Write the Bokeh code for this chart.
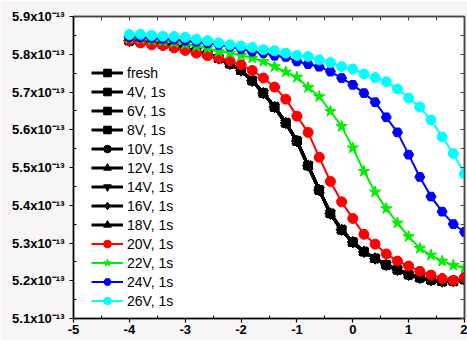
import math
from bokeh.plotting import figure
from bokeh.models import (FixedTicker, PrintfTickFormatter, LinearAxis, Legend,
                          LegendItem, Range1d)
from bokeh.embed import file_html
from bokeh.resources import INLINE

# ---------------- data (capacitance in units of 1e-13 F) ----------------
gate_v = [-4.0, -3.8, -3.6, -3.4, -3.2, -3.0, -2.8, -2.6, -2.4, -2.2, -2.0,
          -1.8, -1.6, -1.4, -1.2, -1.0, -0.8, -0.6, -0.4, -0.2, 0.0,
          0.2, 0.4, 0.6, 0.8, 1.0, 1.2, 1.4, 1.6, 1.8, 2.0]

# fresh ... 18V curves overlap almost exactly
black_curve = [5.836, 5.833, 5.830, 5.826, 5.821, 5.815, 5.808, 5.800, 5.789, 5.775, 5.757,
               5.730, 5.697, 5.660, 5.618, 5.570, 5.505, 5.440, 5.378, 5.335, 5.302,
               5.277, 5.259, 5.242, 5.229, 5.216, 5.208, 5.202, 5.198, 5.199, 5.203]
v20 = [5.837, 5.830, 5.825, 5.823, 5.817, 5.810, 5.803, 5.796, 5.790, 5.783, 5.772,
       5.757, 5.737, 5.713, 5.681, 5.636, 5.593, 5.527, 5.463, 5.409, 5.365,
       5.323, 5.297, 5.271, 5.252, 5.239, 5.225, 5.215, 5.206, 5.201, 5.209]
v22 = [5.843, 5.841, 5.837, 5.835, 5.831, 5.827, 5.821, 5.816, 5.807, 5.803, 5.797,
       5.790, 5.781, 5.767, 5.753, 5.739, 5.712, 5.688, 5.649, 5.609, 5.552,
       5.490, 5.435, 5.391, 5.353, 5.317, 5.286, 5.268, 5.252, 5.241, 5.234]
v24 = [5.846, 5.845, 5.843, 5.841, 5.839, 5.836, 5.833, 5.829, 5.825, 5.820, 5.814,
       5.807, 5.803, 5.796, 5.793, 5.781, 5.774, 5.767, 5.754, 5.737, 5.719,
       5.697, 5.673, 5.633, 5.593, 5.534, 5.475, 5.423, 5.383, 5.350, 5.329]
v26 = [5.852, 5.853, 5.850, 5.848, 5.847, 5.845, 5.840, 5.836, 5.830, 5.825, 5.822,
       5.818, 5.812, 5.809, 5.803, 5.797, 5.794, 5.785, 5.778, 5.767, 5.761,
       5.748, 5.738, 5.727, 5.708, 5.684, 5.660, 5.626, 5.581, 5.537, 5.483]

labels = ["fresh", "4V, 1s", "6V, 1s", "8V, 1s", "10V, 1s", "12V, 1s", "14V, 1s",
          "16V, 1s", "18V, 1s", "20V, 1s", "22V, 1s", "24V, 1s", "26V, 1s"]
series = [black_curve] * 9 + [v20, v22, v24, v26]
colors = ["black"] * 9 + ["#ff0000", "#00ee00", "#0000ff", "#00ffff"]
markers = ["square", "square", "square", "square", "circle", "triangle",
           "inverted_triangle", "diamond", "triangle",
           "circle", "star", "hex", "circle"]
angles = [0, 0, 0, 0, 0, 0, 0, 0, math.pi / 2, 0, 0, 0, 0]
sizes = [8, 8, 8, 8, 9, 10, 10, 11, 10, 10, 12, 10, 10]

y_ticks = [5.1, 5.2, 5.3, 5.4, 5.5, 5.6, 5.7, 5.8, 5.9]
y_minor = [5.15, 5.25, 5.35, 5.45, 5.55, 5.65, 5.75, 5.85]
x_ticks = [-5, -4, -3, -2, -1, 0, 1, 2]
x_minor = [-4.5, -3.5, -2.5, -1.5, -0.5, 0.5, 1.5]

# ---------------- figure ----------------
p = figure(width=467, height=340, output_backend="svg", toolbar_location=None,
           x_range=Range1d(-5, 2), y_range=Range1d(5.1, 5.9),
           min_border_left=73, min_border_right=3, min_border_top=16,
           min_border_bottom=22)
p.background_fill_color = "white"
p.border_fill_color = "#f7f5f5"
p.outline_line_color = "#444444"
p.outline_line_width = 1.5
p.grid.visible = False

lab_font = "Liberation Sans"

xa = p.xaxis[0]
xa.ticker = FixedTicker(ticks=x_ticks, minor_ticks=x_minor)
xa.formatter = PrintfTickFormatter(format="%d")
ya = p.yaxis[0]
ya.ticker = FixedTicker(ticks=y_ticks, minor_ticks=y_minor)
ya.formatter = PrintfTickFormatter(format="%.1fx10\u207b\u00b9\u00b3")
for ax in (xa, ya):
    ax.axis_line_width = 1.5
    ax.axis_line_color = "black"
    ax.major_tick_in = 0
    ax.major_tick_out = 4
    ax.minor_tick_in = 3
    ax.minor_tick_out = 0
    ax.major_tick_line_width = 1.2
    ax.major_label_text_font = lab_font
    ax.major_label_text_font_style = "bold"
    ax.major_label_text_font_size = "13px"
    ax.major_label_text_color = "black"
xa.major_label_standoff = 2
ya.major_label_standoff = 5

# mirror axes: tick marks only (all ticks as minor ticks -> no labels)
top = LinearAxis(ticker=FixedTicker(ticks=[], minor_ticks=x_ticks + x_minor))
right = LinearAxis(ticker=FixedTicker(ticks=[], minor_ticks=y_ticks + y_minor))
for ax in (top, right):
    ax.axis_line_color = "#444444"
    ax.axis_line_width = 1.5
    ax.major_tick_in = 0
    ax.major_tick_out = 0
    ax.minor_tick_in = 4
    ax.minor_tick_out = 0
    ax.minor_tick_line_color = "#444444"
    ax.major_label_standoff = 0
p.add_layout(top, "above")
p.add_layout(right, "right")

items = []
for lab, ys, col, mk, ang, sz in zip(labels, series, colors, markers, angles, sizes):
    lw = 3 if col == "black" else 2
    r_line = p.line(gate_v, ys, line_color=col, line_width=lw)
    r_mark = p.scatter(gate_v, ys, marker=mk, size=sz, angle=ang,
                       fill_color=col, line_color=col)
    items.append(LegendItem(label=lab, renderers=[r_line, r_mark]))

legend = Legend(items=items, location=(18, 8))
legend.background_fill_alpha = 0
legend.border_line_alpha = 0
legend.padding = 0
legend.margin = 0
legend.spacing = 0
legend.glyph_width = 32
legend.glyph_height = 19
legend.label_height = 19
legend.label_standoff = 4
legend.label_text_font = lab_font
legend.label_text_font_size = "14px"
legend.label_text_color = "black"
p.add_layout(legend, "center")

open("out.html", "w").write(file_html(p, INLINE))
